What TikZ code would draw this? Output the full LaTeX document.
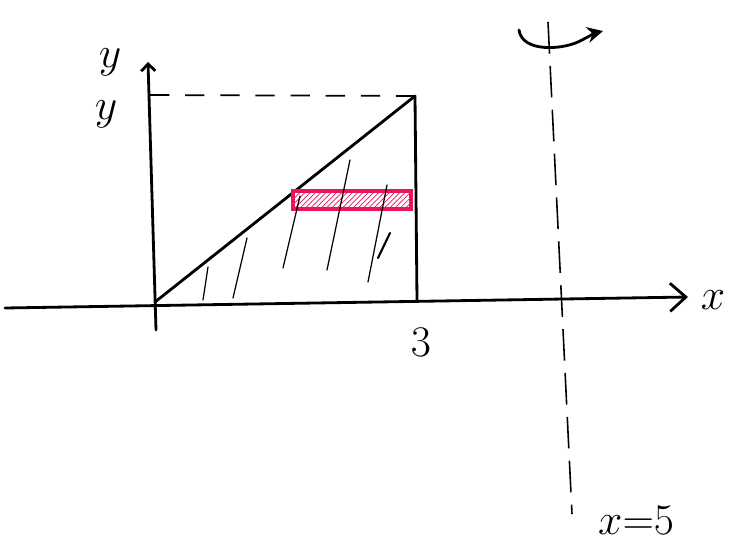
\documentclass[tikz,border=0pt]{standalone}
\usepackage{amsmath,amssymb}
\usetikzlibrary{arrows.meta, patterns}
\definecolor{rougeh}{RGB}{232,22,88}

\begin{document}
\begin{tikzpicture}[x=0.02cm, y=-0.02cm,
    axe/.style={line width=1.6pt, line cap=round},
    trait/.style={line width=0.7pt, line cap=round},
    lettre/.style={font=\fontsize{26}{30}\selectfont}]
    \useasboundingbox (0,0) rectangle (745,545);

    % Points de repère
    \coordinate (O) at (155,302);
    \coordinate (xg) at (5,308);
    \coordinate (xd) at (688,297);
    \coordinate (yb) at (156,330);
    \coordinate (yh) at (148,62);
    \coordinate (S) at (415,96);
    \coordinate (P) at (417,300);
    \coordinate (D) at (150,95);

    % Axes
    \draw[axe, -{Straight Barb[length=9pt, width=16pt]}] (xg) -- (xd);
    \draw[axe, -{Straight Barb[length=4pt, width=8pt]}] (yb) -- (yh);
    \node[lettre] (lx) at (713,300) {$x$};
    \node[lettre] (ly) at (110,62) {$y$};
    \node[lettre] (ly2) at (106,114) {$y$};
    \node[lettre] (l3) at (421,342) {$3$};

    % Triangle
    \draw[axe] (O) -- (S);
    \draw[axe] (S) -- (P);
    \draw[line width=1pt, dash pattern=on 11pt off 9pt] (D) -- (S);

    % Bande rouge
    \draw[rougeh, line width=2.4pt, pattern=north east lines, pattern color=rougeh]
        (293,191) rectangle (411,209);

    % Hachures
    \draw[trait] (208,267) -- (203,300);
    \draw[trait] (247,238) -- (233,298);
    \draw[trait] (300,196) -- (283,268);
    \draw[trait] (350,160) -- (327,270);
    \draw[trait] (387,185) -- (368,282);
    \draw[line width=1.2pt, line cap=round] (390,233) -- (378,258);

    % Axe de rotation x = 5
    \coordinate (rh) at (548,22);
    \coordinate (rb) at (572,514);
    \draw[line width=0.9pt, dash pattern=on 18pt off 7pt] (rh) -- (rb);
    \node[lettre, anchor=west] (l5) at (592,520) {$x{=}5$};

    % Sens de rotation
    \coordinate (r1) at (519,30);
    \coordinate (r2) at (603,31);
    \draw[axe, -{Stealth[length=9pt, width=9pt]}] (r1) .. controls (522,52) and (560,50) .. (578,42) .. controls (588,37) and (595,33) .. (r2);
\end{tikzpicture}
\end{document}
